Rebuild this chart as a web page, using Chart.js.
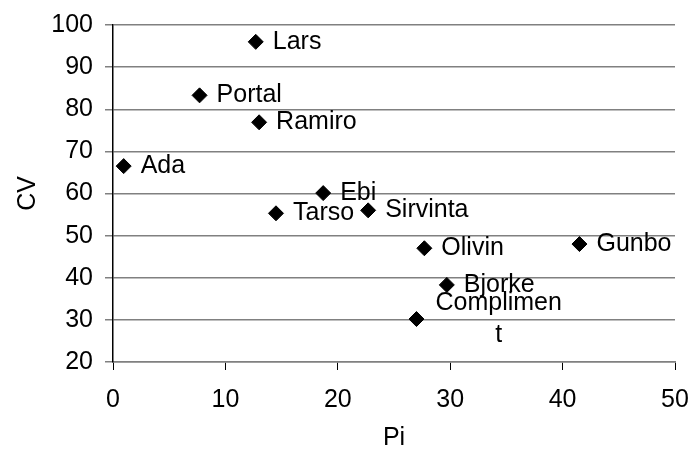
<!DOCTYPE html>
<html>
<head>
<meta charset="utf-8">
<script src="https://cdn.jsdelivr.net/npm/chart.js@4.4.1/dist/chart.umd.min.js"></script>
<style>
html,body{margin:0;padding:0;background:#fff;}
#wrap{width:691px;height:453px;position:relative;}
</style>
</head>
<body>
<div id="wrap"><canvas id="c" width="691" height="453"></canvas></div>
<script>
const names = ["Lars","Portal","Ramiro","Ada","Ebi","Tarso","Sirvinta","Olivin","Gunbo","Bjorke","Compliment"];
const piValues = [12.7, 7.7, 13.0, 0.95, 18.7, 14.5, 22.7, 27.7, 41.5, 29.7, 27.0];
const cvValues = [96.0, 83.3, 76.9, 66.5, 60.1, 55.3, 56.0, 47.0, 48.0, 38.3, 30.2];
const xTicks = [0, 10, 20, 30, 40, 50];
const yTicks = [20, 30, 40, 50, 60, 70, 80, 90, 100];

const FONT = "'Liberation Sans', Arial, sans-serif";
const FS = 25;

const labelPlugin = {
  id: 'pointLabels',
  afterDatasetsDraw(chart) {
    const ctx = chart.ctx;
    const meta = chart.getDatasetMeta(0);
    ctx.save();
    ctx.font = FS + "px " + FONT;
    ctx.fillStyle = "#000";
    ctx.textBaseline = "middle";
    const maxW = 130;
    meta.data.forEach((pt, i) => {
      const txt = names[i];
      let lines = [];
      if (ctx.measureText(txt).width > maxW) {
        let cur = "";
        for (const ch of txt) {
          if (ctx.measureText(cur + ch).width > maxW) { lines.push(cur); cur = ch; }
          else cur += ch;
        }
        lines.push(cur);
      } else lines = [txt];
      const x0 = pt.x + 17;
      if (lines.length === 1) {
        ctx.textAlign = "left";
        ctx.fillText(txt, x0, pt.y);
      } else {
        const w = Math.max(...lines.map(l => ctx.measureText(l).width));
        const lh = 32;
        ctx.textAlign = "center";
        lines.forEach((l, k) => {
          ctx.fillText(l, x0 + 2 + w / 2, pt.y + (k - (lines.length - 1) / 2) * lh);
        });
      }
    });
    ctx.restore();
  }
};

new Chart(document.getElementById('c'), {
  type: 'scatter',
  data: {
    datasets: [{
      data: piValues.map((v, i) => ({x: v, y: cvValues[i]})),
      pointStyle: 'rectRot',
      pointRadius: 7.5,
      pointHoverRadius: 7.5,
      backgroundColor: '#000',
      borderColor: '#000',
      borderWidth: 1
    }]
  },
  plugins: [labelPlugin],
  options: {
    responsive: false,
    animation: false,
    events: [],
    layout: { padding: { top: 25, right: 16, left: 0, bottom: 0 } },
    plugins: { legend: { display: false }, tooltip: { enabled: false } },
    scales: {
      x: {
        type: 'linear', min: 0, max: 50,
        afterBuildTicks: s => { s.ticks = xTicks.map(v => ({value: v})); },
        afterFit: s => { s.height = 91; s.paddingLeft = 0; s.paddingRight = 0; },
        grid: { drawOnChartArea: false, drawTicks: true, tickLength: 8, color: '#000', lineWidth: 1 },
        border: { display: true, color: '#808080', width: 1.5 },
        ticks: { color: '#000', font: { family: FONT, size: FS }, padding: 15, maxRotation: 0 },
        title: { display: true, text: 'Pi', color: '#000', font: { family: FONT, size: FS }, padding: { top: 10, bottom: 0 } }
      },
      y: {
        type: 'linear', min: 20, max: 100,
        afterBuildTicks: s => { s.ticks = yTicks.map(v => ({value: v})); },
        afterFit: s => { s.width = 113; s.paddingTop = 0; s.paddingBottom = 0; },
        grid: { drawOnChartArea: true, drawTicks: true, tickLength: 8, color: '#808080', lineWidth: 1.5 },
        border: { display: true, color: '#000', width: 1.5 },
        ticks: { color: '#000', font: { family: FONT, size: FS }, padding: 12 },
        title: { display: true, text: 'CV', color: '#000', font: { family: FONT, size: FS }, padding: { top: 13, bottom: 0 } }
      }
    }
  }
});
</script>
</body>
</html>
